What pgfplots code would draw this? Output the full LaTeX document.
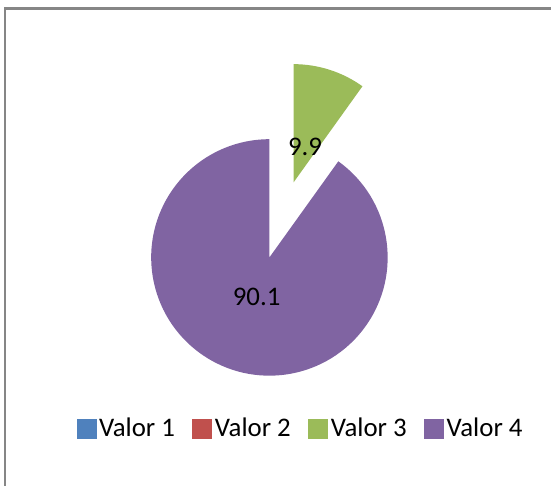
\documentclass[border=0pt]{standalone}
\usepackage{pgfplots}
\usepackage{pgfplotstable}
\pgfplotsset{compat=1.18}
\usepackage{fontspec}
\setmainfont{Carlito}

\definecolor{colA}{HTML}{4F81BD}
\definecolor{colB}{HTML}{C0504D}
\definecolor{colC}{HTML}{9BBB59}
\definecolor{colD}{HTML}{8064A2}
\definecolor{frame}{HTML}{868686}

\pgfplotsset{sq legend/.style={legend image code/.code={\fill[##1, draw=none] (0bp,-5bp) rectangle (10bp,5bp);}}}

% pie values (percent)
\pgfplotstableread{
label value
{Valor 1} 0
{Valor 2} 0
{Valor 3} 9.9
{Valor 4} 90.1
}\piedata

\begin{document}%
\begin{tikzpicture}[font=\fontsize{13.5}{16}\selectfont]
\pgfplotstablegetelem{0}{value}\of\piedata \let\va\pgfplotsretval
\pgfplotstablegetelem{1}{value}\of\piedata \let\vb\pgfplotsretval
\pgfplotstablegetelem{2}{value}\of\piedata \let\vc\pgfplotsretval
\pgfplotstablegetelem{3}{value}\of\piedata \let\vd\pgfplotsretval
% angles, clockwise from 12 o'clock
\pgfmathsetmacro\aStartC{90-3.6*(\va+\vb)}
\pgfmathsetmacro\aEndC{90-3.6*(\va+\vb+\vc)}
\pgfmathsetmacro\aEndD{90-3.6*(\va+\vb+\vc+\vd)}
\pgfmathsetmacro\midC{(\aStartC+\aEndC)/2}
\pgfmathsetmacro\midD{(\aEndC+\aEndD)/2}
\begin{axis}[
    width=276bp, height=243.5bp, scale only axis,
    xmin=0, xmax=552, ymin=0, ymax=487,
    hide axis, clip=false,
    sq legend,
    legend columns=4,
    legend style={at={(0.5462,0.117)}, anchor=center, draw=none, fill=none,
        inner sep=0pt, nodes={inner xsep=1.25bp, inner ysep=1pt},
        /tikz/every even column/.append style={column sep=7.5bp},
        font=\fontsize{13.5}{16}\selectfont},
    legend entries={Valor 1, Valor 2, Valor 3, Valor 4}
    ]
\addlegendimage{sq legend, fill=colA}
\addlegendimage{sq legend, fill=colB}
\addlegendimage{sq legend, fill=colC}
\addlegendimage{sq legend, fill=colD}
\path (rel axis cs:0,0) rectangle (rel axis cs:1,1);
% chart frame (partly cropped)
\draw[frame, line width=1.2bp] (axis cs:5.3,0) -- (axis cs:5.3,478.5) -- (axis cs:552,478.5);
% exploded slice Valor 3
\fill[colC] (axis cs:270,229) ++(\midC:39.5bp) -- ++(\aStartC:59.25bp)
    arc[start angle=\aStartC, end angle=\aEndC, radius=59.25bp] -- cycle;
% slice Valor 4
\fill[colD] (axis cs:270,229) -- ++(\aEndC:59.25bp)
    arc[start angle=\aEndC, end angle=\aEndD, radius=59.25bp] -- cycle;
\path (axis cs:270,229) ++(\midC:58.3bp) node {\vc};
\path (axis cs:270,229) ++(\midD:21bp) node {\vd};
\end{axis}
\end{tikzpicture}%
\end{document}
